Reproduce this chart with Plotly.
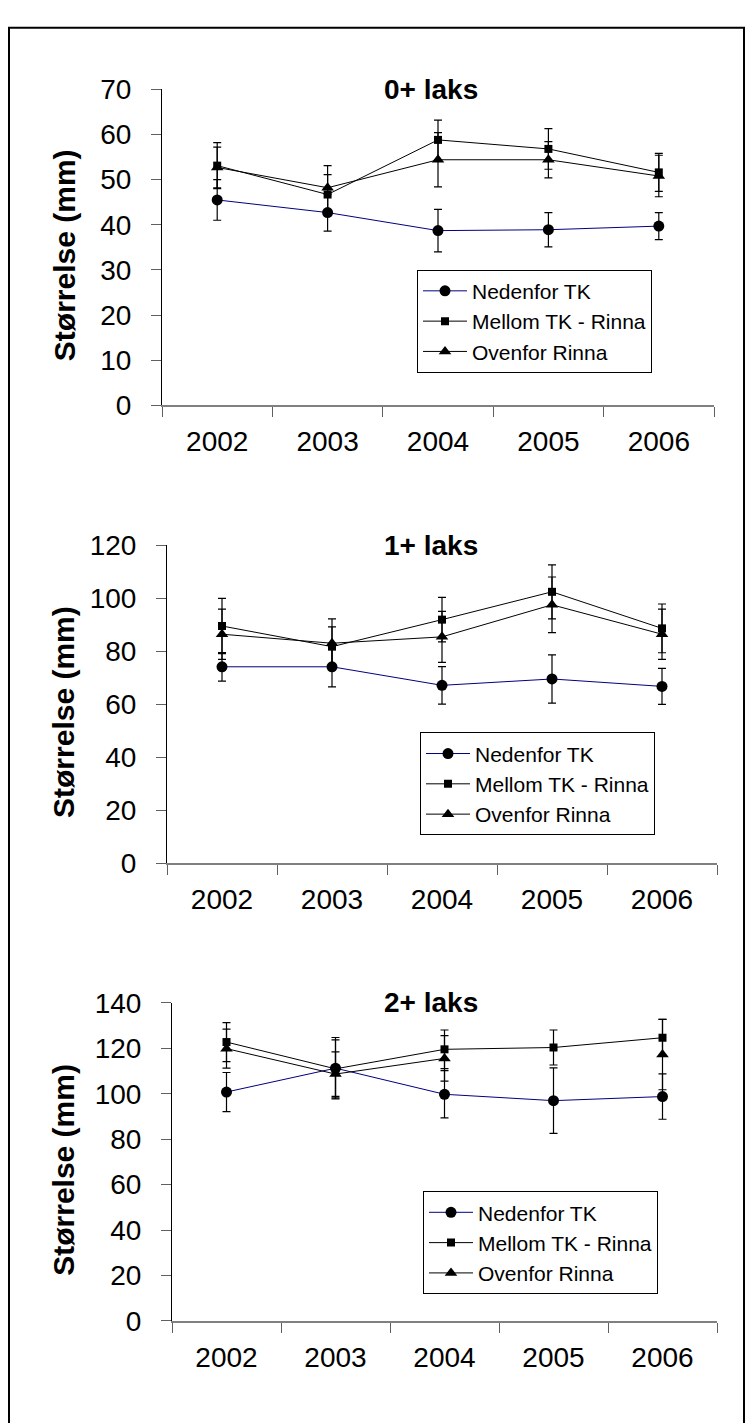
import plotly.graph_objects as go

W, H = 746, 1423

years = ["2002", "2003", "2004", "2005", "2006"]
series_names = ["Nedenfor TK", "Mellom TK - Rinna", "Ovenfor Rinna"]
panel_titles = ["0+ laks", "1+ laks", "2+ laks"]
y_title = "Størrelse (mm)"

# 0+ laks
ned0 = [45.5, 42.7, 38.7, 38.9, 39.7]
ned0_err = [4.5, 4.1, 4.7, 3.8, 3.0]
mel0 = [53.1, 46.7, 58.8, 56.8, 51.6]
mel0_err = [5.1, 4.4, 4.4, 4.5, 4.2]
ove0 = [52.7, 48.2, 54.4, 54.4, 50.8]
ove0_err = [4.5, 4.9, 6.0, 4.0, 4.6]

# 1+ laks
ned1 = [74.1, 74.1, 67.1, 69.5, 66.7]
ned1_err = [5.4, 7.6, 7.1, 9.1, 6.8]
mel1 = [89.5, 81.7, 91.9, 102.4, 88.6]
mel1_err = [10.4, 7.5, 8.4, 10.2, 9.2]
ove1 = [86.4, 83.0, 85.4, 97.5, 86.4]
ove1_err = [9.5, 9.2, 9.6, 10.5, 9.5]

# 2+ laks
ned2 = [100.8, 111.3, 99.8, 97.0, 98.8]
ned2_err = [8.6, 13.5, 10.4, 14.4, 10.0]
mel2 = [122.8, 111.0, 119.6, 120.4, 124.7]
mel2_err = [8.6, 12.8, 8.5, 7.7, 8.1]
ove2 = [119.9, 108.7, 115.6, None, 117.3]
ove2_err = [8.6, 9.8, 10.0, None, 15.5]

y_max = [70, 120, 140]
y_step = [10, 20, 20]

panels = [
    [(ned0, ned0_err), (mel0, mel0_err), (ove0, ove0_err)],
    [(ned1, ned1_err), (mel1, mel1_err), (ove1, ove1_err)],
    [(ned2, ned2_err), (mel2, mel2_err), (ove2, ove2_err)],
]

FONT = "Liberation Sans, Arial, sans-serif"


def px_x(v):
    return v / W


def px_y(v):
    return 1 - v / H


# plot-area boxes in pixels (left, right, top, bottom)
boxes = [(162, 714, 76, 399), (167, 717, 542, 867), (172, 717, 1010, 1335)]
# legend box left edge and vertical centre in pixels
legend_pos = [(417, 313), (420, 786), (423, 1255)]

styles = [
    dict(line=dict(color="#000080", width=1), marker=dict(symbol="circle", size=11, color="black")),
    dict(line=dict(color="black", width=1), marker=dict(symbol="square", size=8, color="black")),
    dict(line=dict(color="black", width=1), marker=dict(symbol="triangle-up", size=11, color="black")),
]

fig = go.Figure()
layout = dict(
    width=W, height=H, margin=dict(l=0, r=0, t=0, b=0),
    paper_bgcolor="white", plot_bgcolor="white",
    font=dict(family=FONT, color="black"),
    annotations=[], shapes=[],
)

for i, (panel, box) in enumerate(zip(panels, boxes)):
    sfx = "" if i == 0 else str(i + 1)
    xa, ya = "x" + sfx, "y" + sfx
    lg = "legend" + sfx
    for j, (vals, errs) in enumerate(panel):
        st = styles[j]
        fig.add_trace(go.Scatter(
            x=years, y=vals, name=series_names[j], mode="lines+markers",
            xaxis=xa, yaxis=ya, legend=lg,
            line=st["line"], marker=st["marker"],
            error_y=dict(type="data", array=errs, visible=True,
                         color="black", thickness=1.2, width=4),
            connectgaps=False, cliponaxis=False,
        ))
    l, r, t, b = box
    layout["xaxis" + sfx] = dict(
        domain=[px_x(l), px_x(r)], anchor=ya, type="category",
        categoryorder="array", categoryarray=years,
        range=[-0.5, 4.5], tickson="boundaries",
        showline=True, linecolor="#808080", linewidth=2,
        ticks="outside", ticklen=10, tickcolor="#606060", tickwidth=1,
        showgrid=False, zeroline=False,
        tickfont=dict(family=FONT, size=28, color="black"),
        ticklabelstandoff=10,
    )
    layout["yaxis" + sfx] = dict(
        domain=[px_y(b), px_y(t)], anchor=xa,
        range=[0, y_max[i]], dtick=y_step[i], tick0=0,
        showline=True, linecolor="black", linewidth=1,
        ticks="outside", ticklen=10, tickcolor="#606060", tickwidth=1,
        showgrid=False, zeroline=False,
        tickfont=dict(family=FONT, size=28, color="black"),
        ticklabelstandoff=14,
    )
    layout[lg] = dict(
        x=px_x(legend_pos[i][0]), y=px_y(legend_pos[i][1]),
        xanchor="left", yanchor="middle",
        bordercolor="black", borderwidth=1, bgcolor="white",
        font=dict(family=FONT, size=21, color="black"),
        itemwidth=44, tracegroupgap=0,
    )
    layout["annotations"].append(dict(
        text="<b>" + panel_titles[i] + "</b>", xref="paper", yref="paper",
        x=px_x(431), y=px_y(t), xanchor="center", yanchor="middle",
        showarrow=False, font=dict(family=FONT, size=28, color="black"),
    ))
    layout["annotations"].append(dict(
        text="<b>" + y_title + "</b>", xref="paper", yref="paper",
        x=px_x(64), y=px_y((t + b) / 2 + 8), xanchor="center", yanchor="middle",
        textangle=-90, showarrow=False,
        font=dict(family=FONT, size=30, color="black"),
    ))

layout["shapes"].append(dict(
    type="rect", xref="paper", yref="paper",
    x0=px_x(9), x1=px_x(744), y0=-0.02, y1=px_y(13),
    line=dict(color="black", width=2), fillcolor="rgba(0,0,0,0)", layer="below",
))

fig.update_layout(**layout)
fig.write_html("out.html", post_script="document.body.style.margin='0';")
